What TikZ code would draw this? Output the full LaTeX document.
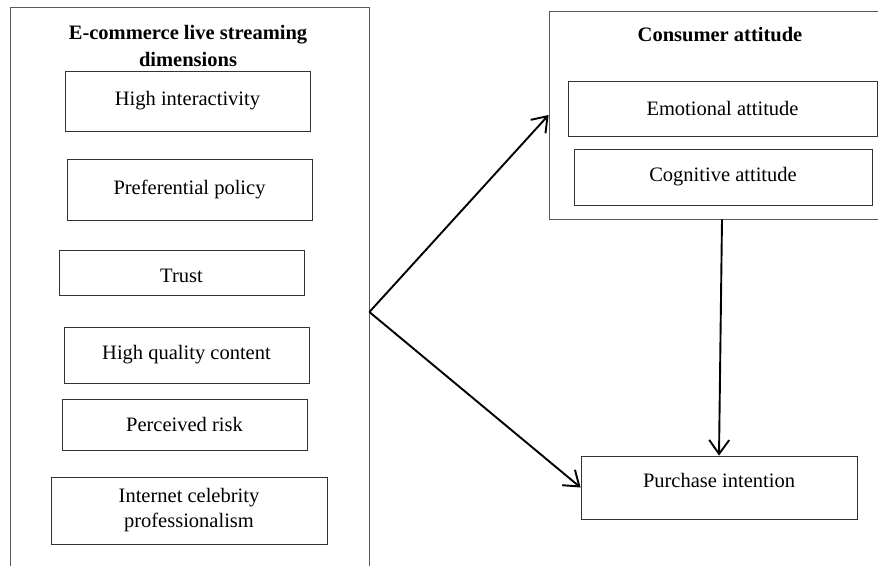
\documentclass[tikz,border=0pt]{standalone}
\usepackage{fontspec}
\setmainfont{Liberation Serif}
\usepackage{tikz}
\usetikzlibrary{arrows.meta}
\usetikzlibrary{positioning}
\tikzset{outer/.style={draw=black!65,line width=0.8pt,rectangle,inner sep=0pt},
         dimbox/.style={draw=black!80,line width=0.8pt,rectangle,inner sep=0pt,
           minimum width=245pt,align=center,
           font=\fontsize{20.5pt}{25pt}\selectfont},
         heading/.style={align=center,inner sep=0pt,
           font=\fontsize{20.5pt}{26.5pt}\selectfont\bfseries},
         link/.style={draw,line width=1.9pt,-{Straight Barb[length=14pt,width=20pt,line width=1.9pt]}}}

\begin{document}
\begin{tikzpicture}[x=1pt,y=-1pt]
  \useasboundingbox (0,0) rectangle (878,565);
  \clip (0,0) rectangle (878,565);
  \fill[white] (0,0) rectangle (878,565);

  \node[outer,minimum width=359pt,minimum height=610pt] (dims) at (189.5,312) {};
  \node[outer,minimum width=346pt,minimum height=208pt] (attitude) at (722,115) {};

  \node[heading] (dimstitle) at (188,46) {E-commerce live streaming\\dimensions};
  \node[heading] (atttitle) at (720,35) {Consumer attitude};

  \node[dimbox,minimum height=60pt] (inter) at (187.5,101) {High interactivity};
  \node[dimbox,minimum height=61pt] (policy) at (189.5,189.5) {Preferential policy};
  \node[dimbox,minimum height=45pt,text height=20pt,text depth=0pt] (trust) at (181.5,272.5) {Trust};
  \node[dimbox,minimum height=56pt] (content) at (186.5,355) {High quality content};
  \node[dimbox,minimum height=51pt] (risk) at (184.5,424.5) {Perceived risk};
  \node[dimbox,minimum width=276pt,minimum height=67pt] (celeb) at (189,510.5)
       {Internet celebrity\\professionalism};

  \node[dimbox,minimum width=309pt,minimum height=55pt] (emotion) at (722.5,108.5) {Emotional attitude};
  \node[dimbox,minimum width=298pt,minimum height=56pt] (cognition) at (723,177) {Cognitive attitude};

  \node[dimbox,minimum width=276pt,minimum height=63pt,text depth=15pt] (purchase) at (719,487.5)
       {Purchase intention};

  \draw[link] (dims.east) -- (attitude.west);
  \draw[link] (dims.east) -- (purchase.west);
  \draw[link] (attitude.south) -- (purchase.north);
\end{tikzpicture}
\end{document}
